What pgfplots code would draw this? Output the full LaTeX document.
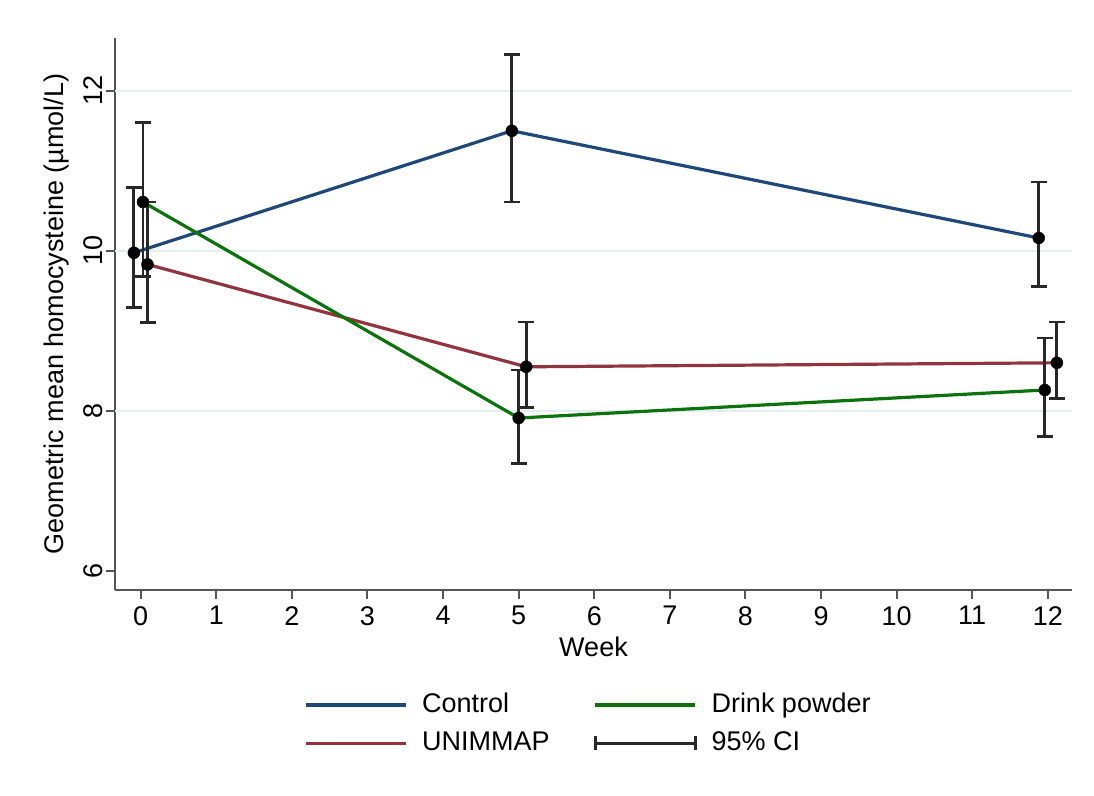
\documentclass[border=0pt]{standalone}
\usepackage{pgfplots}
\usepackage{pgfplotstable}
\pgfplotsset{compat=1.18}
\usepackage{fontspec}
\setmainfont{Liberation Sans}
\definecolor{cnavy}{RGB}{30,72,120}
\definecolor{cmaroon}{RGB}{146,52,62}
\definecolor{cgreen}{RGB}{12,115,12}
\definecolor{cgrid}{RGB}{228,238,240}
\definecolor{caxis}{RGB}{85,85,85}
\definecolor{cci}{RGB}{40,40,40}
\pgfplotsset{
  legline/.style={legend image code/.code={\draw[##1, line width=3.2bp] (0bp,0bp) -- (100bp,0bp); \path (112bp,0bp);}},
  legci/.style={legend image code/.code={\draw[##1, line width=2.8bp] (0bp,0bp) -- (100bp,0bp); \draw[##1, line width=2.8bp] (0bp,-7bp) -- (0bp,7bp); \draw[##1, line width=2.8bp] (100bp,-7bp) -- (100bp,7bp); \path (112bp,0bp);}},
}

\pgfplotstableread{
x y hi lo
-0.09 9.975 10.79 9.29
4.91 11.50 12.45 10.61
11.88 10.16 10.86 9.55
}\control
\pgfplotstableread{
x y hi lo
0.03 10.61 11.60 9.68
5.00 7.91 8.51 7.34
11.96 8.26 8.91 7.68
}\drink
\pgfplotstableread{
x y hi lo
0.09 9.83 10.61 9.10
5.10 8.55 9.11 8.04
12.12 8.60 9.11 8.15
}\unimmap

\begin{document}
\fontsize{27bp}{31bp}\selectfont
\begin{tikzpicture}
\useasboundingbox (-115bp,-206bp) rectangle (979bp,590bp);
\begin{axis}[
  at={(0,0)}, anchor=south west,
  scale only axis, width=957bp, height=552bp,
  xmin=-0.34, xmax=12.32, ymin=5.76, ymax=12.66,
  axis x line*=bottom, axis y line*=left,
  axis line style={caxis, line width=2bp, -},
  xtick={0,1,...,12}, ytick={6,8,10,12},
  tick style={caxis, line width=2bp},
  tick align=outside, major tick length=9bp,
  every tick label/.append style={font=\fontsize{27bp}{31bp}\selectfont, text=black},
  /pgf/number format/assume math mode=true,
  yticklabel style={rotate=90, anchor=south, inner sep=3bp},
  xticklabel style={inner sep=7bp},
  extra y ticks={8,10,12}, extra y tick labels={},
  extra y tick style={grid=major, major tick length=0pt, major grid style={cgrid, line width=1.5bp}},
  xlabel={Week}, ylabel={Geometric mean homocysteine (µmol/L)},
  label style={font=\fontsize{27bp}{31bp}\selectfont},
  xlabel style={at={(axis description cs:0.5,0)}, anchor=north, yshift=-47bp, inner sep=0pt},
  ylabel style={at={(axis description cs:0,0.5)}, anchor=south, yshift=46bp, inner sep=0pt},
  legend columns=2,
  legend style={at={(axis description cs:0.5,0)}, anchor=north, yshift=-97bp, xshift=-4bp, draw=none, fill=none,
    font=\fontsize{27bp}{31bp}\selectfont, row sep=7bp,
    nodes={inner sep=4bp, anchor=west},
    /tikz/every even column/.append style={column sep=40bp}},
  legend cell align=left,
  clip=false,
]
\addlegendimage{cnavy, legline}
\addlegendentry{Control}
\addlegendimage{cgreen, legline}
\addlegendentry{Drink powder}
\addlegendimage{cmaroon, legline}
\addlegendentry{UNIMMAP}
\addlegendimage{cci, legci}
\addlegendentry{95\% CI}

\addplot[cnavy, line width=3.2bp, no marks, forget plot] table[x=x,y=y] {\control};
\addplot[cmaroon, line width=3.2bp, no marks, forget plot] table[x=x,y=y] {\unimmap};
\addplot[cgreen, line width=3.2bp, no marks, forget plot] table[x=x,y=y] {\drink};

\pgfplotsset{cistyle/.style={only marks, mark=*, mark size=6bp, black, forget plot,
  error bars/.cd, y dir=both, y explicit,
  error bar style={cci, line width=2.8bp},
  error mark options={cci, line width=2.8bp, mark size=8bp, rotate=90}}}
\addplot[cistyle] table[x=x, y=y, y error plus expr=\thisrow{hi}-\thisrow{y}, y error minus expr=\thisrow{y}-\thisrow{lo}] {\control};
\addplot[cistyle] table[x=x, y=y, y error plus expr=\thisrow{hi}-\thisrow{y}, y error minus expr=\thisrow{y}-\thisrow{lo}] {\drink};
\addplot[cistyle] table[x=x, y=y, y error plus expr=\thisrow{hi}-\thisrow{y}, y error minus expr=\thisrow{y}-\thisrow{lo}] {\unimmap};
\end{axis}
\end{tikzpicture}
\end{document}
